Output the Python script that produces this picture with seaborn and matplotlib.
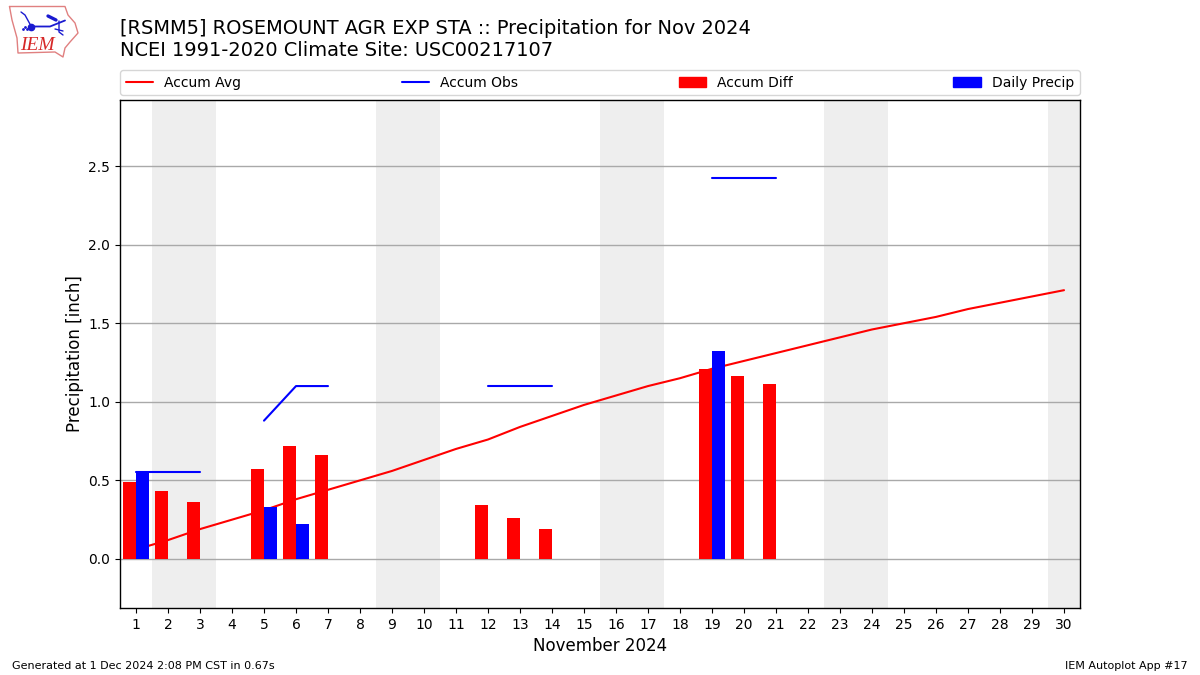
import numpy as np
import pandas as pd
import matplotlib
matplotlib.use("Agg")
import matplotlib.pyplot as plt
from matplotlib.lines import Line2D
from matplotlib.patches import Patch
import seaborn as sns

days = list(range(1, 31))
accum_avg = [0.06, 0.12, 0.19, 0.25, 0.31, 0.38, 0.44, 0.50, 0.56, 0.63,
             0.70, 0.76, 0.84, 0.91, 0.98, 1.04, 1.10, 1.15, 1.21, 1.26,
             1.31, 1.36, 1.41, 1.46, 1.50, 1.54, 1.59, 1.63, 1.67, 1.71]
obs_days = [1, 2, 3, 5, 6, 7, 12, 13, 14, 19, 20, 21]
obs_vals = [0.555, 0.555, 0.555, 0.88, 1.10, 1.10, 1.10, 1.10, 1.10, 2.425, 2.425, 2.425]
obs_run = [0, 0, 0, 1, 1, 1, 2, 2, 2, 3, 3, 3]
diff_days = [1, 2, 3, 5, 6, 7, 12, 13, 14, 19, 20, 21]
diff_vals = [0.49, 0.43, 0.36, 0.57, 0.72, 0.66, 0.345, 0.26, 0.19, 1.21, 1.165, 1.11]
daily_days = [1, 5, 6, 19]
daily_vals = [0.555, 0.33, 0.22, 1.32]
weekends = [(2, 3), (9, 10), (16, 17), (23, 24), (30, 30)]
xticks = days
yticks = [0.0, 0.5, 1.0, 1.5, 2.0, 2.5]
title_lines = ["[RSMM5] ROSEMOUNT AGR EXP STA :: Precipitation for Nov 2024",
               "NCEI 1991-2020 Climate Site: USC00217107"]

sns.set_theme(style="white", rc={"axes.edgecolor": "black", "axes.linewidth": 1.0,
                                 "xtick.bottom": True, "ytick.left": True,
                                 "text.color": "black", "axes.labelcolor": "black",
                                 "xtick.color": "black", "ytick.color": "black"})
plt.rcParams["font.family"] = ["DejaVu Sans"]

W, H = 1200, 675
fig = plt.figure(figsize=(12, 6.75), dpi=100)
ax = fig.add_axes([120 / W, 1 - 608 / H, 960 / W, 508 / H])

for a, b in weekends:
    ax.axvspan(a - 0.5, b + 0.5, color="#eeeeee", lw=0, zorder=0)

bars = pd.DataFrame({
    "day": diff_days + daily_days,
    "value": diff_vals + daily_vals,
    "series": ["Accum Diff"] * len(diff_days) + ["Daily Precip"] * len(daily_days),
})
sns.lineplot(x=days, y=accum_avg, color="red", lw=1.5, ax=ax, zorder=1.5, legend=False)
sns.barplot(data=bars, x="day", y="value", hue="series",
            hue_order=["Accum Diff", "Daily Precip"],
            palette={"Accum Diff": "red", "Daily Precip": "blue"},
            native_scale=True, width=0.8, gap=0, dodge=True, saturation=1,
            errorbar=None, legend=False, ax=ax, zorder=2, linewidth=0, edgecolor="none")
obs = pd.DataFrame({"day": obs_days, "value": obs_vals, "run": obs_run})
sns.lineplot(data=obs, x="day", y="value", units="run", estimator=None,
             color="blue", lw=1.5, ax=ax, zorder=3, legend=False)

ax.set_xlim(0.5, 30.5)
ax.set_ylim(-0.312, 2.92)
ax.set_xticks(xticks)
ax.set_xticklabels([str(d) for d in xticks], fontsize=10)
ax.set_yticks(yticks)
ax.set_yticklabels([f"{v:.1f}" for v in yticks], fontsize=10)
ax.tick_params(length=3.5, width=0.8, pad=3.5)
ax.set_axisbelow(True)
ax.grid(axis="y", color="#a9a9a9", lw=1.0, zorder=0.5)
ax.grid(axis="x", visible=False)
ax.set_xlabel("November 2024", fontsize=12, labelpad=4)
ax.set_ylabel("Precipitation [inch]", fontsize=12, labelpad=3)
for s in ax.spines.values():
    s.set_zorder(5)

handles = [Line2D([], [], color="red", lw=1.5), Line2D([], [], color="blue", lw=1.5),
           Patch(color="red"), Patch(color="blue")]
ax.legend(handles, ["Accum Avg", "Accum Obs", "Accum Diff", "Daily Precip"], ncol=4,
          mode="expand", loc="lower left", bbox_to_anchor=(0, 1.0095, 1, 0.05),
          borderaxespad=0, fontsize=10, frameon=True, edgecolor="#cccccc", framealpha=0.8)

fig.text(120 / W, 1 - 29 / H, title_lines[0], fontsize=13.98, va="center", ha="left")
fig.text(120 / W, 1 - 51 / H, title_lines[1], fontsize=13.98, va="center", ha="left")
fig.text(12 / W, 1 - 666 / H, "Generated at 1 Dec 2024 2:08 PM CST in 0.67s", fontsize=8, va="center")
fig.text(1188 / W, 1 - 666 / H, "IEM Autoplot App #17", fontsize=8, va="center", ha="right")

# IEM logo, redrawn in its own little pixel-space axes
logo = fig.add_axes([0, 1 - 65 / H, 90 / W, 65 / H])
logo.set_xlim(0, 90)
logo.set_ylim(65, 0)
logo.axis("off")
logo.patch.set_alpha(0)
outline_x = [9.5, 65, 68, 75, 78, 70, 65, 63, 55, 18, 17, 12, 9.5]
outline_y = [6.5, 6.5, 15, 23, 33, 42, 48, 57, 52, 53, 38, 20, 6.5]
logo.plot(outline_x, outline_y, color="#e08080", lw=1)
blue = "#1a1ad0"
logo.plot([31, 50, 65], [26.5, 26.5, 20.5], color=blue, lw=1.3)
logo.plot([21, 25, 31], [12, 15, 26], color=blue, lw=1.0)
logo.plot([48, 56], [16, 20], color=blue, lw=2.4)
logo.plot([59, 59, 63], [21, 32, 35], color=blue, lw=1.0)
logo.plot([55, 63], [29, 31], color=blue, lw=1.0)
logo.plot([31], [26.5], "o", color=blue, ms=4.5)
logo.plot([23, 25, 27], [29, 27, 29], ".", color=blue, ms=2)
logo.text(37.5, 45.5, "IEM", color="#d62828", fontsize=14, family="Liberation Serif",
          style="italic", ha="center", va="center")

fig.savefig("out.png", dpi=100)
